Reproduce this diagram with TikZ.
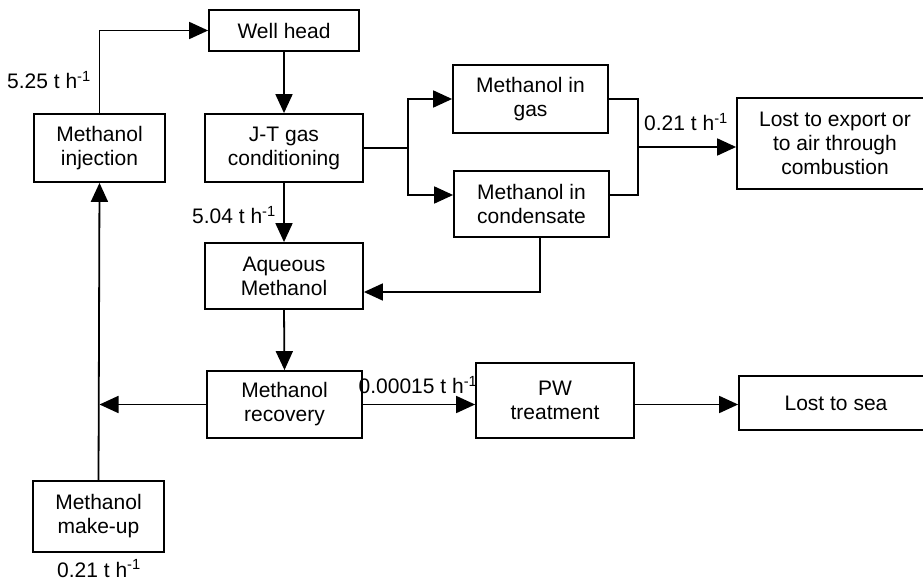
\documentclass[tikz,border=0pt]{standalone}
\usepackage{fontspec}
\setmainfont{Liberation Sans}
\usetikzlibrary{arrows.meta}
\newcommand{\tph}[1]{#1 t h\textsuperscript{-1}}
\begin{document}
\begin{tikzpicture}[x=1pt,y=-1pt,
  box/.style={draw, line width=1.8pt, align=center, inner sep=0pt, font=\fontsize{21}{24}\selectfont},
  arr/.style={line width=1.8pt, -{Triangle[length=19pt,width=17pt]}},
  ln/.style={line width=1.8pt},
  lbl/.style={font=\fontsize{21}{24}\selectfont, inner sep=0pt}]
\useasboundingbox (0,0) rectangle (923,583);
\clip (0,0) rectangle (923,583);

% boxes
\node[box, minimum width=150pt, minimum height=41pt] (wh) at (284,30.5) {Well head};
\node[box, minimum width=131pt, minimum height=68pt] (inj) at (99.5,148) {Methanol\\injection};
\node[box, minimum width=158pt, minimum height=68pt] (jt) at (284,148) {J-T gas\\conditioning};
\node[box, minimum width=155pt, minimum height=68pt] (gas) at (530.5,99) {Methanol in\\gas};
\node[box, minimum width=155pt, minimum height=66pt] (cond) at (531.5,204) {Methanol in\\condensate};
\node[box, minimum width=196pt, minimum height=91pt] (lost) at (835,143.5) {Lost to export or\\to air through\\combustion};
\node[box, minimum width=158pt, minimum height=66pt] (aq) at (284,276) {Aqueous\\Methanol};
\node[box, minimum width=155pt, minimum height=67pt] (rec) at (284.5,404.5) {Methanol\\recovery};
\node[box, minimum width=158pt, minimum height=75pt] (pw) at (555,400.5) {PW\\treatment};
\node[box, minimum width=194pt, minimum height=54pt] (sea) at (836,403) {Lost to sea};
\node[box, minimum width=131pt, minimum height=71pt] (mk) at (98.5,516.5) {Methanol\\make-up};

% helper coordinates
\coordinate (s1) at (408,148);
\coordinate (ci) at (408,195);
\coordinate (m1) at (638,147);
\coordinate (cb) at (540,292);

% connectors
\draw[arr] (inj.north) |- (wh.west);
\draw[arr] (wh.south) -- (jt.north);
\draw[ln] (jt.east) -- (s1);
\draw[arr] (s1) |- (gas.west);
\draw[arr] (s1) |- (cond.west |- ci);
\draw[ln] (gas.east) -| (m1);
\draw[ln] (cond.east |- ci) -| (m1);
\draw[arr] (m1) -- (lost.west |- m1);
\draw[arr] (jt.south) -- (aq.north);
\draw[arr] (cond.south -| cb) |- (aq.east |- cb);
\draw[arr] (aq.south) -- (rec.north);
\draw[arr] (rec.west) -- (rec.west -| inj.south);
\draw[arr] (mk.north) -- (inj.south);
\draw[arr] (rec.east) -- (pw.west |- rec.east);
\draw[arr] (pw.east |- rec.east) -- (sea.west |- rec.east);

% labels
\node[lbl] (l1) at (49,80) {\tph{5.25}};
\node[lbl] (l2) at (686,122) {\tph{0.21}};
\node[lbl] (l3) at (234,215) {\tph{5.04}};
\node[lbl] (l4) at (418,385) {\tph{0.00015}};
\node[lbl, anchor=base] (l5) at (99,577) {\tph{0.21}};
\end{tikzpicture}
\end{document}
